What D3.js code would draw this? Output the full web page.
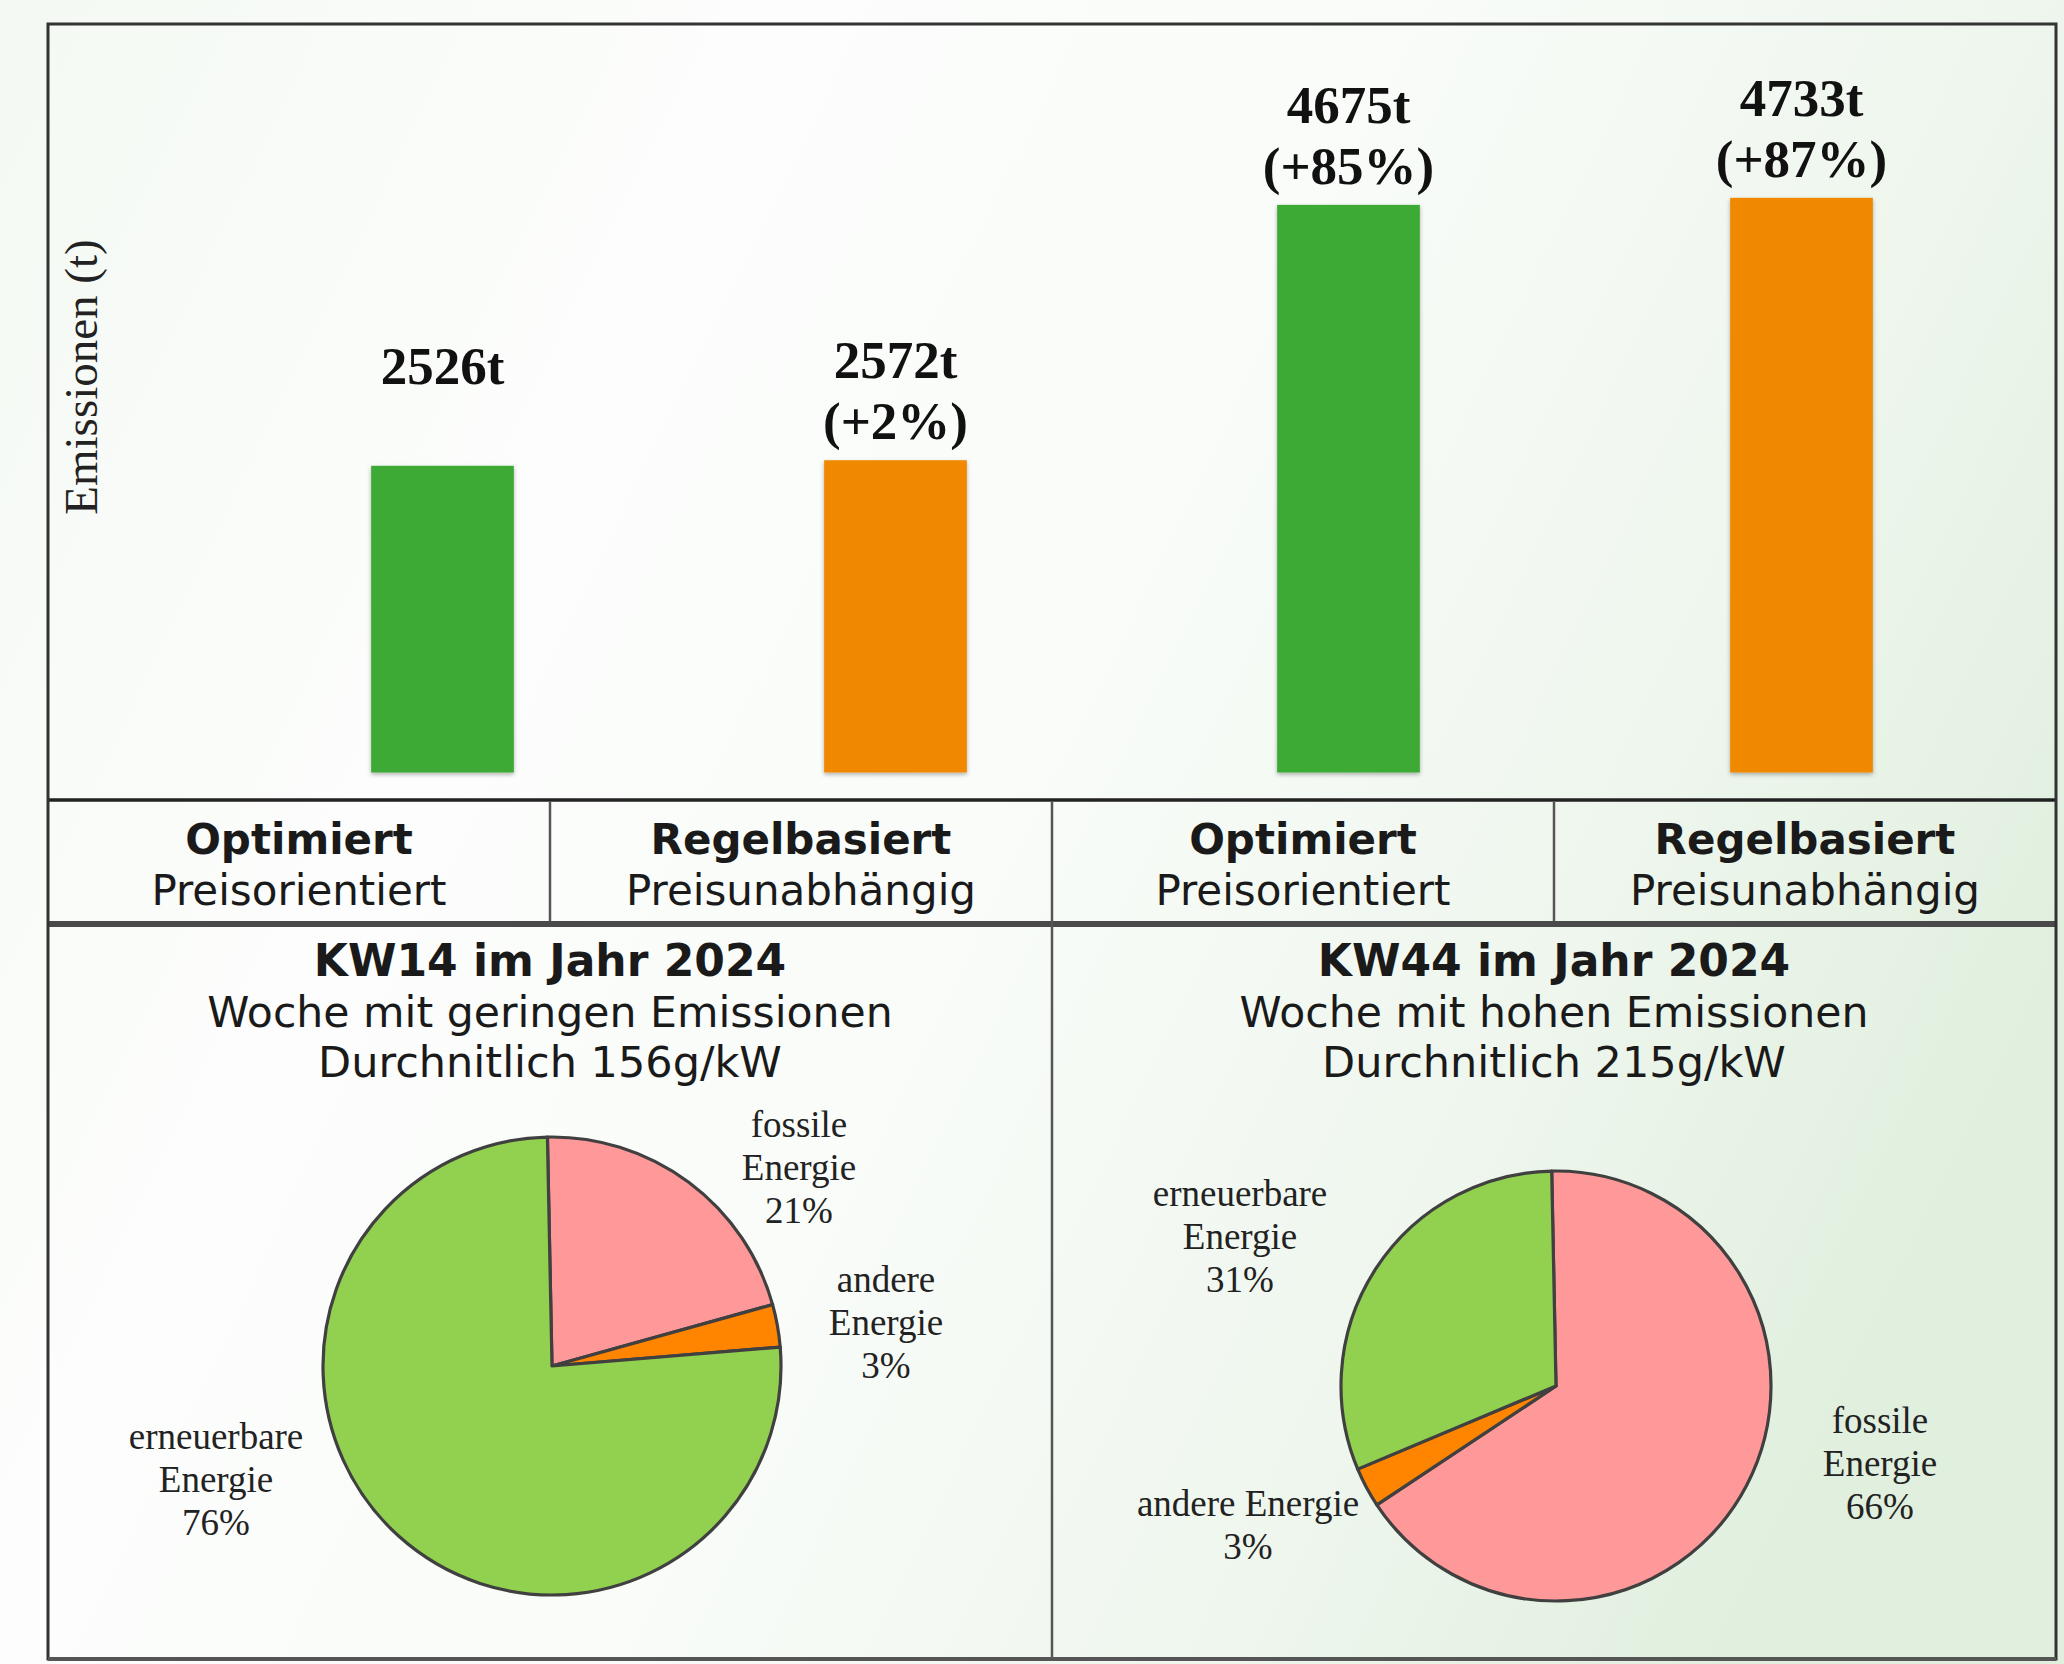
<!DOCTYPE html>
<html>
<head>
<meta charset="utf-8">
<script src="https://cdn.jsdelivr.net/npm/d3@7"></script>
<style>
  html, body { margin: 0; padding: 0; background: #fff; }
  svg { display: block; }
</style>
</head>
<body>
<svg id="chart" width="2064" height="1664"></svg>
<script>
// ---------------- DATA ----------------
const strategies = ["Optimiert", "Regelbasiert", "Optimiert", "Regelbasiert"];
const strategyDetails = ["Preisorientiert", "Preisunabhängig", "Preisorientiert", "Preisunabhängig"];
const emissions = [2526, 2572, 4675, 4733];           // t
const strategyKind = ["opt", "rule", "opt", "rule"];

const weeks = ["KW14 im Jahr 2024", "KW44 im Jahr 2024"];
const weekDescriptions = ["Woche mit geringen Emissionen", "Woche mit hohen Emissionen"];
const weekAverages = [156, 215];                       // g/kW

const energyTypes = ["fossile", "andere", "erneuerbare"];
const mixKW14 = [21, 3, 76];                           // %
const mixKW44 = [66, 3, 31];                           // %
const pieLabelLines = [
  [["fossile", "Energie"], ["andere", "Energie"], ["erneuerbare", "Energie"]],
  [["fossile", "Energie"], ["andere Energie"], ["erneuerbare", "Energie"]]
];

// ---------------- STYLE / LAYOUT ----------------
const W = 2064, H = 1664;
const frame = { x0: 48, y0: 24, x1: 2056, y1: 1659 };
const tableTop = 800, tableBottom = 924;
const barColor = { opt: "#3DAA35", rule: "#F08800" };
const sliceColor = { fossile: "#FF9898", andere: "#FF8400", erneuerbare: "#92D050" };
const serif = "'Liberation Serif', 'Times New Roman', serif";
const sans = "'DejaVu Sans', sans-serif";

const svg = d3.select("#chart");
const defs = svg.append("defs");

const grad = defs.append("linearGradient").attr("id", "bg")
  .attr("gradientUnits", "userSpaceOnUse")
  .attr("x1", 0).attr("y1", 0).attr("x2", W).attr("y2", 1000);
[[0, "#F4F9F3"], [0.3, "#FCFDFC"], [0.55, "#F9FCF9"], [0.8, "#EEF6ED"], [1, "#E0EFDE"]]
  .forEach(([o, c]) => grad.append("stop").attr("offset", o).attr("stop-color", c));

const shadow = defs.append("filter").attr("id", "shadow")
  .attr("x", "-10%").attr("y", "-5%").attr("width", "120%").attr("height", "110%");
shadow.append("feDropShadow").attr("dx", 0).attr("dy", 2).attr("stdDeviation", 2)
  .attr("flood-color", "#000").attr("flood-opacity", 0.3);

svg.append("rect").attr("width", W).attr("height", H).attr("fill", "url(#bg)");

// ---------------- BAR CHART ----------------
const x = d3.scaleBand().domain(d3.range(emissions.length))
  .range([216, 2028]).paddingInner(0.685).paddingOuter(0.3425);
const y = d3.scaleLinear().domain([0, 6000]).range([772.5, 44]);

svg.append("g").selectAll("rect").data(emissions).join("rect")
  .attr("x", (d, i) => x(i))
  .attr("y", d => y(d))
  .attr("width", x.bandwidth())
  .attr("height", d => y(0) - y(d))
  .attr("fill", (d, i) => barColor[strategyKind[i]])
  .attr("filter", "url(#shadow)");

const base = emissions[0];
const labelGap = 21, labelLine = 61;
const barLabels = svg.append("g")
  .attr("font-family", serif).attr("font-weight", "bold")
  .attr("font-size", 53).attr("fill", "#111").attr("text-anchor", "middle");
emissions.forEach((v, i) => {
  const cx = x(i) + x.bandwidth() / 2;
  barLabels.append("text").attr("x", cx).attr("y", y(v) - labelGap - labelLine).text(v + "t");
  if (i > 0) {
    const pct = Math.round((v / base - 1) * 100);
    barLabels.append("text").attr("x", cx).attr("y", y(v) - labelGap).text("(+" + pct + "%)");
  }
});

svg.append("text")
  .attr("transform", "translate(97,377) rotate(-90)")
  .attr("text-anchor", "middle")
  .attr("font-family", serif).attr("font-size", 47).attr("fill", "#222")
  .text("Emissionen (t)");

// ---------------- TABLE ----------------
const col = d3.scaleBand().domain(d3.range(strategies.length)).range([frame.x0, frame.x1]);
const table = svg.append("g").attr("text-anchor", "middle").attr("fill", "#1a1a1a");
strategies.forEach((s, i) => {
  const cx = col(i) + col.bandwidth() / 2;
  table.append("text").attr("x", cx).attr("y", 854)
    .attr("font-family", sans).attr("font-weight", "bold").attr("font-size", 42).text(s);
  table.append("text").attr("x", cx).attr("y", 905)
    .attr("font-family", sans).attr("font-size", 42).text(strategyDetails[i]);
});

// ---------------- PIES ----------------
const panel = d3.scaleBand().domain(d3.range(weeks.length)).range([frame.x0, frame.x1]);
const pieCenters = [{ cx: 552, cy: 1366, r: 229 }, { cx: 1556, cy: 1386, r: 215 }];
const labelOffsets = [
  [[247, -229], [334, -74], [-336, 83]],
  [[324, 47], [-308, 129.5], [-316, -180]]
];
const pieLineH = 43;
const pie = d3.pie().sort(null).startAngle(-0.02).endAngle(2 * Math.PI - 0.02);

[mixKW14, mixKW44].forEach((mix, w) => {
  const pcx = panel(w) + panel.bandwidth() / 2;
  const t = svg.append("g").attr("text-anchor", "middle").attr("fill", "#1a1a1a").attr("font-family", sans);
  t.append("text").attr("x", pcx).attr("y", 976).attr("font-weight", "bold").attr("font-size", 44).text(weeks[w]);
  t.append("text").attr("x", pcx).attr("y", 1027).attr("font-size", 42.6).text(weekDescriptions[w]);
  t.append("text").attr("x", pcx).attr("y", 1077).attr("font-size", 43)
    .text("Durchnitlich " + weekAverages[w] + "g/kW");

  const c = pieCenters[w];
  const arc = d3.arc().innerRadius(0).outerRadius(c.r);
  const g = svg.append("g").attr("transform", `translate(${c.cx},${c.cy})`);
  g.selectAll("path").data(pie(mix)).join("path")
    .attr("d", arc)
    .attr("fill", (d, i) => sliceColor[energyTypes[i]])
    .attr("stroke", "#404040").attr("stroke-width", 3.2).attr("stroke-linejoin", "round");

  const lg = g.append("g").attr("font-family", serif).attr("font-size", 37)
    .attr("fill", "#222").attr("text-anchor", "middle");
  mix.forEach((v, i) => {
    const [dx, dy] = labelOffsets[w][i];
    const lines = pieLabelLines[w][i].concat([v + "%"]);
    lines.forEach((ln, k) => {
      lg.append("text").attr("x", dx).attr("y", dy + k * pieLineH).text(ln);
    });
  });
});

// ---------------- FRAME / GRID LINES ----------------
const lines = svg.append("g").attr("fill", "none");
lines.append("line").attr("x1", frame.x0).attr("x2", frame.x1).attr("y1", tableTop).attr("y2", tableTop)
  .attr("stroke", "#222").attr("stroke-width", 3.5);
lines.append("line").attr("x1", frame.x0).attr("x2", frame.x1).attr("y1", tableBottom).attr("y2", tableBottom)
  .attr("stroke", "#4a4a4a").attr("stroke-width", 6);
[1, 3].forEach(i => {
  lines.append("line").attr("x1", col(i)).attr("x2", col(i)).attr("y1", tableTop + 2).attr("y2", tableBottom - 3)
    .attr("stroke", "#555").attr("stroke-width", 2.5);
});
lines.append("line").attr("x1", col(2)).attr("x2", col(2)).attr("y1", tableTop + 2).attr("y2", frame.y1)
  .attr("stroke", "#555").attr("stroke-width", 2.5);
lines.append("rect").attr("x", frame.x0).attr("y", frame.y0)
  .attr("width", frame.x1 - frame.x0).attr("height", frame.y1 - frame.y0)
  .attr("stroke", "#333").attr("stroke-width", 3);
lines.append("line").attr("x1", frame.x0).attr("x2", frame.x1).attr("y1", frame.y1).attr("y2", frame.y1)
  .attr("stroke", "#555").attr("stroke-width", 4);
</script>
</body>
</html>
